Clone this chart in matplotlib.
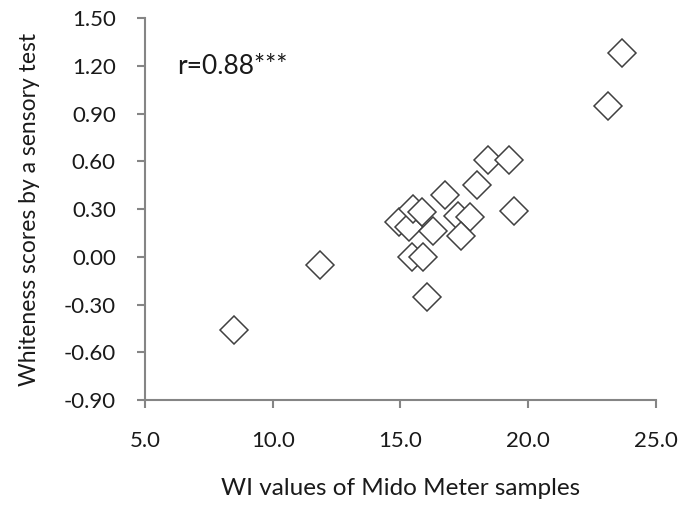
import matplotlib
matplotlib.use("Agg")
import matplotlib.pyplot as plt

# WI values (x) and sensory whiteness scores (y)
wi_values = [8.50, 11.85, 14.96, 15.35, 15.49, 15.84, 16.29, 17.27, 17.73, 17.37,
             15.45, 15.90, 16.06, 16.75, 17.99, 18.45, 19.27, 19.47, 23.15, 23.70]
scores = [-0.46, -0.05, 0.22, 0.19, 0.30, 0.28, 0.16, 0.26, 0.25, 0.13,
          0.00, 0.00, -0.25, 0.39, 0.45, 0.61, 0.61, 0.29, 0.95, 1.28]

x_ticks = [5.0, 10.0, 15.0, 20.0, 25.0]
y_ticks = [-0.90, -0.60, -0.30, 0.00, 0.30, 0.60, 0.90, 1.20, 1.50]

plt.rcParams['font.family'] = ['Lato', 'DejaVu Sans']

fig = plt.figure(figsize=(6.88, 5.16), dpi=100)
ax = fig.add_axes([0.2108, 0.2248, 0.953 - 0.2108, 0.9645 - 0.2248])

ax.plot(wi_values, scores, linestyle='none', marker='D', markersize=14,
        markerfacecolor='white', markeredgecolor='#404040', markeredgewidth=1.1,
        clip_on=False)

ax.set_xlim(5, 25)
ax.set_ylim(-0.9, 1.5)
ax.set_xticks(x_ticks)
ax.set_xticklabels(['%.1f' % v for v in x_ticks])
ax.set_yticks(y_ticks)
ax.set_yticklabels(['%.2f' % v for v in y_ticks])

for side in ['top', 'right']:
    ax.spines[side].set_visible(False)
for side in ['left', 'bottom']:
    ax.spines[side].set_color('#858585')
    ax.spines[side].set_linewidth(1.5)

ax.tick_params(axis='both', direction='out', length=6, width=1.5,
               color='#858585', labelsize=16, labelcolor='#1a1a1a')
ax.tick_params(axis='y', pad=15)
ax.tick_params(axis='x', pad=16)

ax.set_xlabel('WI values of Mido Meter samples', fontsize=17.5, color='#1a1a1a', labelpad=20)
ax.set_ylabel('Whiteness scores by a sensory test', fontsize=16.5, color='#1a1a1a', labelpad=17)

ax.text(6.25, 1.20, 'r=0.88***', fontsize=19, color='#1a1a1a', va='center', ha='left')

fig.savefig('out.png', dpi=100)
